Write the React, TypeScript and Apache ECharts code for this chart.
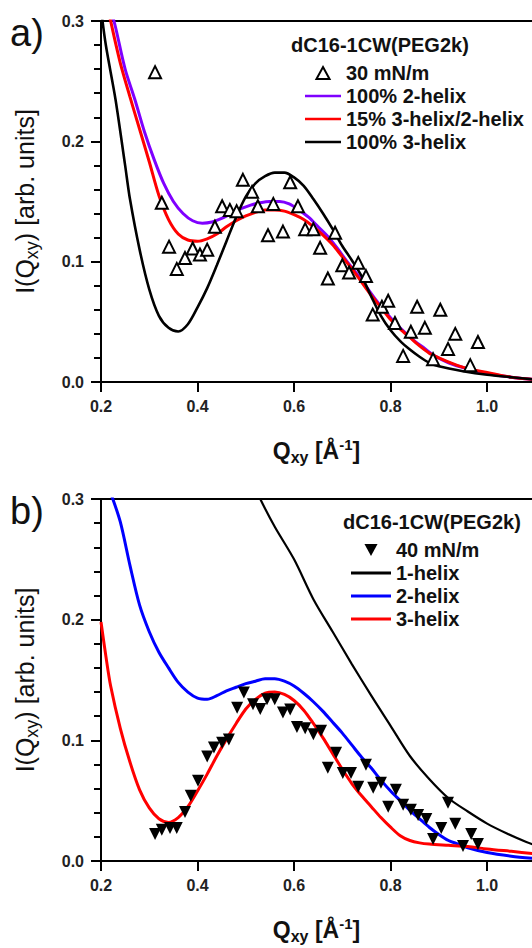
import React, { useEffect, useRef } from "react";
import * as echarts from "echarts";

// ---------- Panel a data ----------
const aData30 = [
  [0.312, 0.2575], [0.326, 0.149], [0.341, 0.1125], [0.357, 0.094], [0.374, 0.103],
  [0.39, 0.111], [0.405, 0.106], [0.42, 0.11], [0.436, 0.129], [0.451, 0.146],
  [0.467, 0.143], [0.481, 0.142], [0.494, 0.168], [0.513, 0.158], [0.525, 0.146],
  [0.546, 0.122], [0.557, 0.148], [0.577, 0.125], [0.592, 0.166], [0.608, 0.146],
  [0.623, 0.127], [0.64, 0.127], [0.654, 0.1115], [0.67, 0.086], [0.685, 0.124],
  [0.70, 0.097], [0.714, 0.091], [0.733, 0.099], [0.749, 0.088], [0.763, 0.056],
  [0.782, 0.0625], [0.795, 0.0675], [0.809, 0.049], [0.826, 0.0217], [0.842, 0.0417],
  [0.855, 0.0625], [0.871, 0.045], [0.888, 0.019], [0.903, 0.06], [0.919, 0.0275],
  [0.934, 0.04], [0.965, 0.014], [0.981, 0.0333],
];
const a2helix = [
  [0.22, 0.31], [0.23, 0.295], [0.25, 0.26], [0.27, 0.235], [0.29, 0.208], [0.31, 0.185],
  [0.33, 0.165], [0.35, 0.15], [0.37, 0.14], [0.39, 0.134], [0.41, 0.132], [0.43, 0.133],
  [0.45, 0.136], [0.47, 0.14], [0.49, 0.144], [0.51, 0.147], [0.53, 0.149], [0.55, 0.15],
  [0.57, 0.15], [0.59, 0.148], [0.61, 0.143], [0.63, 0.137], [0.65, 0.129], [0.67, 0.121],
  [0.69, 0.111], [0.71, 0.1], [0.73, 0.09], [0.75, 0.079], [0.77, 0.068], [0.79, 0.058],
  [0.81, 0.049], [0.83, 0.041], [0.85, 0.034], [0.87, 0.028], [0.89, 0.022], [0.92, 0.016],
  [0.95, 0.012], [1.0, 0.007], [1.05, 0.004], [1.1, 0.002],
];
const aMix15 = [
  [0.21, 0.32], [0.22, 0.3], [0.24, 0.265], [0.26, 0.237], [0.28, 0.21], [0.3, 0.183],
  [0.32, 0.155], [0.34, 0.135], [0.36, 0.123], [0.38, 0.118], [0.4, 0.117], [0.42, 0.119],
  [0.44, 0.123], [0.46, 0.129], [0.48, 0.134], [0.5, 0.138], [0.52, 0.141], [0.54, 0.143],
  [0.56, 0.143], [0.58, 0.142], [0.6, 0.139], [0.62, 0.135], [0.64, 0.129], [0.66, 0.122],
  [0.68, 0.114], [0.7, 0.104], [0.72, 0.094], [0.74, 0.083], [0.76, 0.072], [0.78, 0.062],
  [0.8, 0.052], [0.82, 0.044], [0.84, 0.037], [0.86, 0.03], [0.88, 0.024], [0.9, 0.02],
  [0.93, 0.015], [0.96, 0.011], [1.0, 0.008], [1.05, 0.004], [1.1, 0.002],
];
const a3helix = [
  [0.2, 0.31], [0.21, 0.28], [0.23, 0.235], [0.25, 0.18], [0.26, 0.152], [0.28, 0.11],
  [0.3, 0.077], [0.32, 0.055], [0.34, 0.045], [0.36, 0.042], [0.38, 0.048], [0.4, 0.062],
  [0.42, 0.078], [0.44, 0.097], [0.46, 0.117], [0.48, 0.137], [0.5, 0.154], [0.52, 0.165],
  [0.54, 0.171], [0.56, 0.174], [0.58, 0.174], [0.6, 0.17], [0.62, 0.163], [0.64, 0.152],
  [0.66, 0.14], [0.68, 0.127], [0.7, 0.113], [0.72, 0.101], [0.74, 0.088], [0.76, 0.071],
  [0.78, 0.055], [0.8, 0.043], [0.82, 0.034], [0.84, 0.027], [0.86, 0.021], [0.88, 0.016],
  [0.9, 0.013], [0.95, 0.009], [1.0, 0.006], [1.05, 0.004], [1.1, 0.002],
];

// ---------- Panel b data ----------
const bData40 = [
  [0.312, 0.0224], [0.326, 0.0258], [0.343, 0.0274], [0.357, 0.0274], [0.374, 0.0407],
  [0.386, 0.054], [0.401, 0.0665], [0.42, 0.0865], [0.434, 0.094], [0.451, 0.098],
  [0.465, 0.1006], [0.482, 0.127], [0.496, 0.1396], [0.515, 0.13], [0.53, 0.126],
  [0.544, 0.134], [0.56, 0.134], [0.577, 0.123], [0.592, 0.1255], [0.606, 0.111],
  [0.623, 0.11], [0.64, 0.105], [0.656, 0.108], [0.67, 0.0773], [0.687, 0.0898],
  [0.701, 0.073], [0.718, 0.073], [0.733, 0.0615], [0.749, 0.0798], [0.764, 0.0607],
  [0.78, 0.0648], [0.795, 0.0449], [0.811, 0.059], [0.826, 0.0466], [0.842, 0.0424],
  [0.857, 0.0382], [0.874, 0.0349], [0.888, 0.0183], [0.905, 0.0274], [0.919, 0.0482],
  [0.934, 0.0308], [0.95, 0.0125], [0.967, 0.0224], [0.981, 0.0141],
];
const b1helix = [
  [0.51, 0.318], [0.53, 0.3], [0.56, 0.277], [0.6, 0.25], [0.64, 0.217], [0.68, 0.19],
  [0.72, 0.163], [0.76, 0.137], [0.8, 0.112], [0.84, 0.087], [0.88, 0.068], [0.92, 0.052],
  [0.96, 0.041], [1.0, 0.031], [1.04, 0.023], [1.08, 0.016], [1.1, 0.013],
];
const b2helix = [
  [0.22, 0.305], [0.24, 0.281], [0.26, 0.245], [0.28, 0.212], [0.3, 0.19], [0.32, 0.173],
  [0.34, 0.16], [0.36, 0.148], [0.38, 0.14], [0.4, 0.135], [0.42, 0.134], [0.44, 0.137],
  [0.46, 0.141], [0.48, 0.144], [0.5, 0.147], [0.52, 0.149], [0.54, 0.151], [0.56, 0.151],
  [0.58, 0.149], [0.6, 0.145], [0.62, 0.139], [0.64, 0.132], [0.66, 0.124], [0.68, 0.115],
  [0.7, 0.106], [0.72, 0.096], [0.74, 0.086], [0.76, 0.077], [0.78, 0.067], [0.8, 0.058],
  [0.82, 0.05], [0.84, 0.042], [0.86, 0.035], [0.88, 0.028], [0.9, 0.022], [0.92, 0.017],
  [0.94, 0.014], [0.96, 0.011], [1.0, 0.007], [1.05, 0.004], [1.1, 0.002],
];
const b3helix = [
  [0.2, 0.198], [0.21, 0.17], [0.22, 0.145], [0.24, 0.11], [0.26, 0.082], [0.28, 0.059],
  [0.3, 0.044], [0.32, 0.035], [0.34, 0.032], [0.36, 0.036], [0.38, 0.045], [0.4, 0.058],
  [0.42, 0.072], [0.44, 0.087], [0.46, 0.101], [0.48, 0.114], [0.5, 0.126], [0.52, 0.134],
  [0.54, 0.139], [0.56, 0.14], [0.58, 0.138], [0.6, 0.133], [0.62, 0.125], [0.64, 0.114],
  [0.66, 0.102], [0.68, 0.089], [0.7, 0.076], [0.72, 0.064], [0.74, 0.054], [0.76, 0.045],
  [0.78, 0.036], [0.8, 0.028], [0.82, 0.021], [0.84, 0.017], [0.86, 0.015], [0.88, 0.014],
  [0.92, 0.013], [0.96, 0.012], [1.0, 0.01], [1.05, 0.008], [1.1, 0.006],
];

const legendTitle = "dC16-1CW(PEG2k)";
const legendA = ["30 mN/m", "100% 2-helix", "15% 3-helix/2-helix", "100% 3-helix"];
const legendB = ["40 mN/m", "1-helix", "2-helix", "3-helix"];
const panelLabels = ["a)", "b)"];

const FONT = "Arial, 'Liberation Sans', Helvetica, sans-serif";
const LINE_ICON = "path://M0,0H40V3H0Z";
const UP_TRI = "path://M6,0L12,11L0,11Z";
const DOWN_TRI = "path://M0,0L12,0L6,11Z";

const X_MIN = 0.2;
const X_MAX = 1.093;
const X_STEP = 0.2;
const Y_MIN = 0;
const Y_MAX = 0.3;
const Y_STEP = 0.1;

const GRID_LEFT = 101;
const GRID_W = 431;
const GRID_H = [361, 362];
const GRID_TOP = [21, 499];
const MAJOR_LEN = 10;
const MINOR_LEN = 7;

const tickLine = { color: "#000", width: 2 };

function xAxisFor(gridIndex: number) {
  return {
    type: "value",
    gridIndex,
    position: "bottom",
    min: X_MIN,
    max: X_MAX,
    interval: X_STEP,
    name: "{b|Q}{s|xy}{b| [Å}{p|-1}{b|]}",
    nameLocation: "middle",
    nameGap: 55,
    nameTextStyle: {
      rich: {
        b: { fontSize: 23, fontWeight: "bold", fontFamily: FONT, color: "#111", lineHeight: 28, verticalAlign: "middle" },
        s: { fontSize: 16, fontWeight: "bold", fontFamily: FONT, color: "#111", lineHeight: 16, verticalAlign: "bottom" },
        p: { fontSize: 15, fontWeight: "bold", fontFamily: FONT, color: "#111", lineHeight: 16, verticalAlign: "top" },
      },
    },
    axisLine: { show: true, onZero: false, lineStyle: { color: "#000", width: 2 } },
    axisTick: { show: true, inside: false, length: MAJOR_LEN, lineStyle: tickLine },
    minorTick: { show: false },
    splitLine: { show: false },
    axisLabel: {
      show: true,
      showMaxLabel: false,
      margin: 16,
      fontSize: 16,
      fontWeight: "bold",
      fontFamily: FONT,
      color: "#222",
      formatter: (v: number) => v.toFixed(1),
    },
  };
}

function topAxisFor(gridIndex: number) {
  return {
    type: "value",
    gridIndex,
    position: "top",
    min: X_MIN,
    max: X_MAX,
    interval: X_STEP,
    axisLine: { show: true, onZero: false, lineStyle: { color: "#000", width: 2 } },
    axisTick: { show: false },
    axisLabel: { show: false },
    splitLine: { show: false },
  };
}

function yAxisFor(gridIndex: number) {
  return {
    type: "value",
    gridIndex,
    position: "left",
    min: Y_MIN,
    max: Y_MAX,
    interval: Y_STEP,
    name: "{n|I(Q}{s|xy}{n|) [arb. units]}",
    nameLocation: "middle",
    nameGap: 60,
    nameRotate: 90,
    nameTextStyle: {
      rich: {
        n: { fontSize: 25, fontFamily: FONT, color: "#111", lineHeight: 32, verticalAlign: "middle" },
        s: { fontSize: 18, fontFamily: FONT, color: "#111", lineHeight: 19, verticalAlign: "bottom" },
      },
    },
    axisLine: { show: true, onZero: false, lineStyle: { color: "#000", width: 2 } },
    axisTick: { show: true, inside: false, length: MAJOR_LEN, lineStyle: tickLine },
    minorTick: { show: true, splitNumber: 5, length: MINOR_LEN, lineStyle: tickLine },
    splitLine: { show: false },
    minorSplitLine: { show: false },
    axisLabel: {
      show: true,
      margin: 17,
      fontSize: 16,
      fontWeight: "bold",
      fontFamily: FONT,
      color: "#222",
      formatter: (v: number) => v.toFixed(1),
    },
  };
}

// Tick strips: thin grids just outside each plot whose split lines act as the outward ticks.
const hiddenValueAxis = (gridIndex: number) => ({ type: "value", gridIndex, show: false, min: 0, max: 1 });

function xTickStripAxis(gridIndex: number) {
  return {
    type: "value",
    gridIndex,
    min: X_MIN,
    max: X_MAX,
    interval: X_STEP,
    axisLine: { show: false },
    axisTick: { show: false },
    axisLabel: { show: false },
    minorTick: { show: false },
    splitLine: { show: true, showMaxLine: false, lineStyle: tickLine },
  };
}

function yTickStripAxis(gridIndex: number, minor: boolean) {
  return {
    type: "value",
    gridIndex,
    min: Y_MIN,
    max: Y_MAX,
    interval: Y_STEP,
    axisLine: { show: false },
    axisTick: { show: false },
    axisLabel: { show: false },
    minorTick: { show: false, splitNumber: 5 },
    splitLine: { show: !minor, lineStyle: tickLine },
    minorSplitLine: { show: minor, lineStyle: tickLine },
  };
}

function lineSeries(name: string, data: number[][], color: string, width: number, idx: number) {
  return {
    type: "line",
    name,
    data,
    xAxisIndex: idx,
    yAxisIndex: idx,
    symbol: "none",
    smooth: 0.3,
    clip: true,
    lineStyle: { color, width },
    itemStyle: { color },
    z: 2,
  };
}

export default function App() {
  const ref = useRef<HTMLDivElement>(null);
  useEffect(() => {
    if (!ref.current) return;
    const chart = echarts.init(ref.current, null, { renderer: "svg" });
    const legendText = { fontSize: 20, fontWeight: "bold", fontFamily: FONT, color: "#111", lineHeight: 20 };
    const g = (left: number, top: number, width: number, height: number) => ({
      left, top, width, height, outerBoundsMode: "none", containLabel: false,
    });
    chart.setOption({
      animation: false,
      backgroundColor: "#fff",
      grid: [
        g(GRID_LEFT, GRID_TOP[0], GRID_W, GRID_H[0]),
        g(GRID_LEFT, GRID_TOP[1], GRID_W, GRID_H[1]),
        g(GRID_LEFT, GRID_TOP[0] + GRID_H[0], GRID_W, MAJOR_LEN),
        g(GRID_LEFT, GRID_TOP[1] + GRID_H[1], GRID_W, MAJOR_LEN),
        g(GRID_LEFT - MAJOR_LEN, GRID_TOP[0], MAJOR_LEN, GRID_H[0]),
        g(GRID_LEFT - MAJOR_LEN, GRID_TOP[1], MAJOR_LEN, GRID_H[1]),
        g(GRID_LEFT - MINOR_LEN, GRID_TOP[0], MINOR_LEN, GRID_H[0]),
        g(GRID_LEFT - MINOR_LEN, GRID_TOP[1], MINOR_LEN, GRID_H[1]),
      ],
      xAxis: [
        xAxisFor(0), xAxisFor(1), topAxisFor(0), topAxisFor(1),
        xTickStripAxis(2), xTickStripAxis(3),
        hiddenValueAxis(4), hiddenValueAxis(5), hiddenValueAxis(6), hiddenValueAxis(7),
      ],
      yAxis: [
        yAxisFor(0), yAxisFor(1),
        hiddenValueAxis(2), hiddenValueAxis(3),
        yTickStripAxis(4, false), yTickStripAxis(5, false),
        yTickStripAxis(6, true), yTickStripAxis(7, true),
      ],
      legend: [
        {
          data: [
            { name: legendA[0], icon: UP_TRI },
            { name: legendA[1], icon: LINE_ICON },
            { name: legendA[2], icon: LINE_ICON },
            { name: legendA[3], icon: LINE_ICON },
          ],
          orient: "vertical",
          left: 300,
          top: 58,
          itemWidth: 36,
          itemHeight: 12,
          itemGap: 3,
          selectedMode: false,
          textStyle: legendText,
        },
        {
          data: [
            { name: legendB[0], icon: DOWN_TRI },
            { name: legendB[1], icon: LINE_ICON },
            { name: legendB[2], icon: LINE_ICON },
            { name: legendB[3], icon: LINE_ICON },
          ],
          orient: "vertical",
          left: 346,
          top: 535,
          itemWidth: 40,
          itemHeight: 12,
          itemGap: 3,
          selectedMode: false,
          textStyle: legendText,
        },
      ],
      graphic: [
        { type: "text", left: 10, top: 14, style: { text: panelLabels[0], fontSize: 38, fontFamily: FONT, fill: "#111" } },
        { type: "text", left: 10, top: 492, style: { text: panelLabels[1], fontSize: 38, fontFamily: FONT, fill: "#111" } },
        { type: "text", left: 291, top: 35, style: { text: legendTitle, fontSize: 20, fontWeight: "bold", fontFamily: FONT, fill: "#111" } },
        { type: "text", left: 343, top: 512, style: { text: legendTitle, fontSize: 20, fontWeight: "bold", fontFamily: FONT, fill: "#111" } },
      ],
      series: [
        lineSeries(legendA[1], a2helix, "#7f00ff", 3, 0),
        lineSeries(legendA[2], aMix15, "#ff0000", 3, 0),
        lineSeries(legendA[3], a3helix, "#000000", 2.6, 0),
        {
          type: "scatter",
          name: legendA[0],
          data: aData30,
          xAxisIndex: 0,
          yAxisIndex: 0,
          symbol: "triangle",
          symbolSize: 12,
          itemStyle: { color: "#fff", borderColor: "#000", borderWidth: 2, opacity: 1 },
          z: 3,
        },
        lineSeries(legendB[1], b1helix, "#000000", 2.2, 1),
        lineSeries(legendB[2], b2helix, "#0000ff", 3, 1),
        lineSeries(legendB[3], b3helix, "#ff0000", 3, 1),
        {
          type: "scatter",
          name: legendB[0],
          data: bData40,
          xAxisIndex: 1,
          yAxisIndex: 1,
          symbol: "triangle",
          symbolRotate: 180,
          symbolSize: 12,
          itemStyle: { color: "#000", opacity: 1 },
          z: 3,
        },
      ],
    });
    return () => chart.dispose();
  }, []);
  return <div ref={ref} style={{ position: "absolute", left: 0, top: 0, width: 532, height: 948 }} />;
}
